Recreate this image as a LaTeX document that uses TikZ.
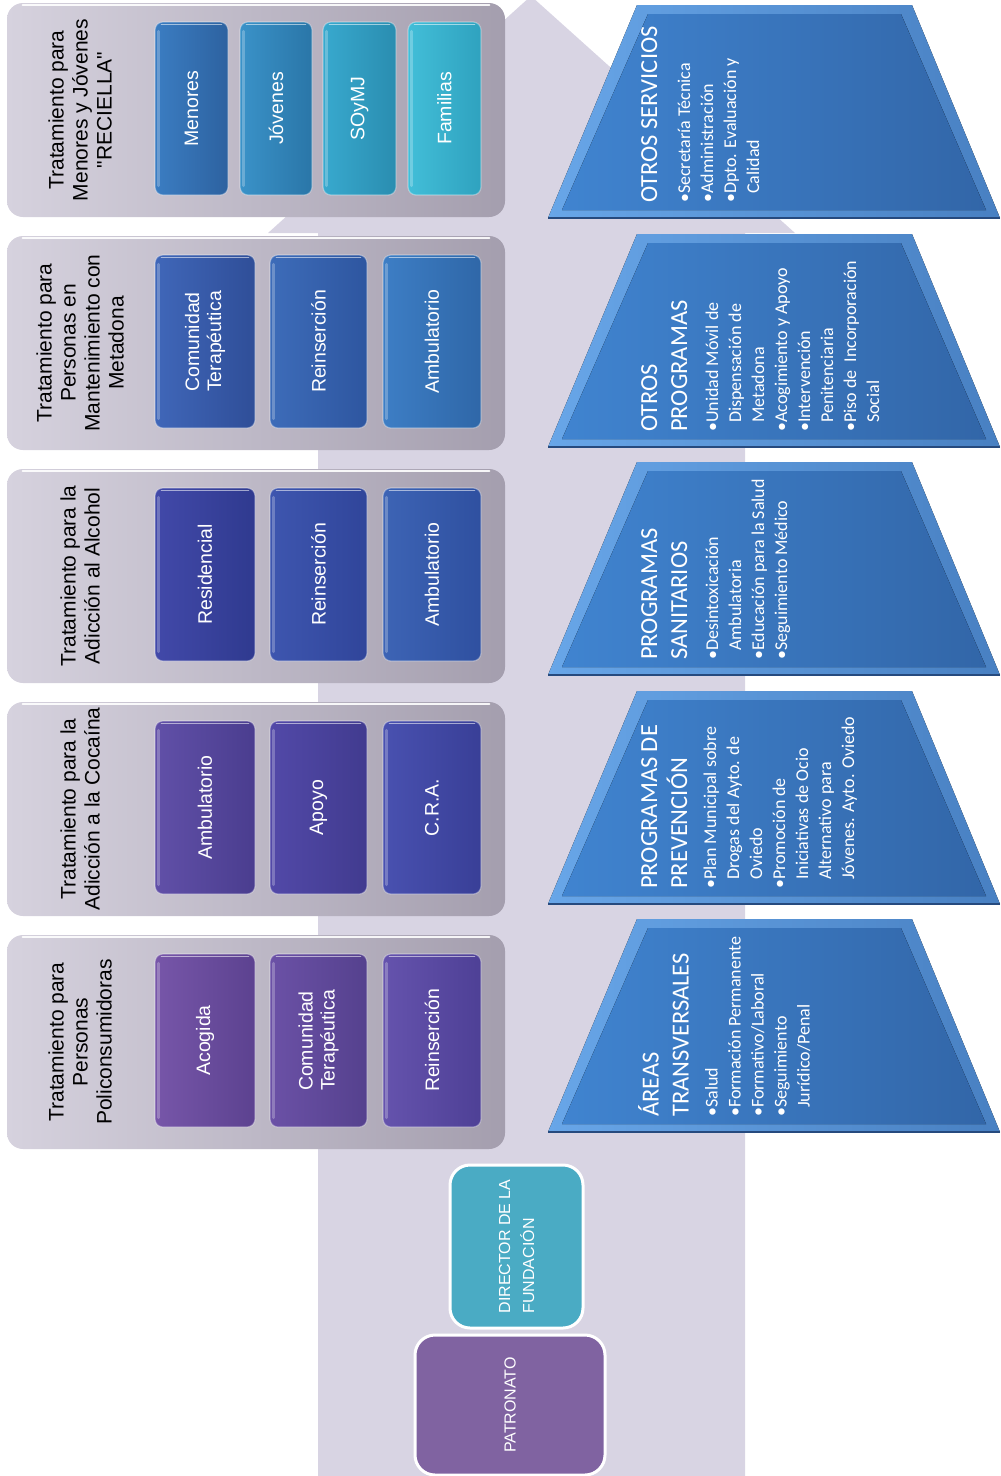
\documentclass[tikz,border=0pt]{standalone}
\usepackage{fontspec}
\setmainfont{Liberation Sans}[Ligatures=TeXOff]
\newfontfamily\calibri{Carlito}
\usetikzlibrary{calc}

\definecolor{fondo}{RGB}{216,212,227}
\definecolor{grisA}{RGB}{214,210,222}
\definecolor{grisB}{RGB}{164,158,174}
\definecolor{azulA}{RGB}{64,132,208}
\definecolor{azulB}{RGB}{50,102,168}
\definecolor{biselA}{RGB}{104,166,232}
\definecolor{biselB}{RGB}{72,128,194}
\definecolor{azulD}{RGB}{38,74,126}
\definecolor{director}{RGB}{74,171,196}
\definecolor{patronato}{RGB}{128,99,161}

\begin{document}
\begin{tikzpicture}[x=1pt, y=-1pt,
	grupo/.style={rounded corners=16pt, left color=grisA, right color=grisB, minimum width=498pt, minimum height=214pt, inner sep=0pt},
	titgrupo/.style={rotate=90, align=center, inner sep=0pt, text=black, font=\fontsize{21}{24}\selectfont},
	caja/.style={rounded corners=8pt, minimum height=173pt, inner sep=0pt, draw=white, draw opacity=0.35, line width=1.2pt},
	txtcaja/.style={rotate=90, align=left, inner sep=0pt, text=white, font=\fontsize{19.5}{22}\selectfont},
	tittrap/.style={rotate=90, anchor=north west, inner sep=0pt, align=left, text=white, font=\calibri\fontsize{24.5}{30}\selectfont},
	listrap/.style={rotate=90, anchor=north west, inner sep=0pt, align=left, text=white, font=\calibri\fontsize{18}{23}\selectfont},
	cargo/.style={rounded corners=20pt, draw=white, line width=3pt, inner sep=0pt},
	txtcargo/.style={rotate=90, align=left, inner sep=0pt, text=white, font=\fontsize{16}{24}\selectfont}]
	\useasboundingbox (0,0) rectangle (1001,1476);

	% flecha de fondo
	\fill[fondo] (318,1476) -- (318,233) -- (268,233) -- (531,-4) -- (795,233) -- (745,233) -- (745,1476) -- cycle;

	% tratamientos
	\foreach \n/\cy/\txt in {1/110/{Tratamiento para\\Menores y Jóvenes\\"RECIELLA"},
			2/343/{Tratamiento para\\Personas en\\Mantenimiento con\\Metadona},
			3/576/{Tratamiento para la\\Adicción al Alcohol},
			4/809/{Tratamiento para la\\Adicción a la Cocaína},
			5/1042/{Tratamiento para\\Personas\\Policonsumidoras}}
	{
		\node[grupo] (g\n) at (256,\cy) {};
		\draw[white, line width=2.5pt, line cap=round, opacity=0.9] ($(g\n.north west)+(16,2)$) -- ($(g\n.north east)+(-16,2)$);
		\node[titgrupo] (tg\n) at (80,\cy) {\txt};
	}

	\foreach \nm/\cx/\cy/\w/\txt/\ca/\cb in {
			men/191.5/108.5/73/Menores/3B7DC2/2D62A0,
			jov/276/108.5/72/Jóvenes/3A92C8/2A76A8,
			soy/359.5/108.5/73/SOyMJ/38A9CE/2A8DB0,
			fam/444.5/108.5/73/Familias/42BED8/2FA2BF,
			ctm/205/341.5/100/{Comunidad\\Terapéutica}/4067B9/2F4E98,
			rem/318.5/341.5/97/Reinserción/3D6CB9/2E56A0,
			amm/432/341.5/98/Ambulatorio/3D7EC5/2F67A8,
			res/205/574.5/100/Residencial/4249A9/2F3A8F,
			rea/318.5/574.5/97/Reinserción/3E56AF/30459A,
			ama/432/574.5/98/Ambulatorio/3D64B5/2F50A0,
			amc/205/807.5/100/Ambulatorio/6150A8/4A3D8F,
			apo/318.5/807.5/97/Apoyo/5249A8/413B8F,
			cra/432/807.5/98/C.R.A./4951B0/393F97,
			aco/205/1040.5/100/Acogida/7756A9/5C4290,
			ctp/318.5/1040.5/97/{Comunidad\\Terapéutica}/6B51A6/55418E,
			rep/432/1040.5/98/Reinserción/6553AD/4E4096}
	{
		\definecolor{izq}{HTML}{\ca}
		\definecolor{der}{HTML}{\cb}
		\node[caja, minimum width=\w pt, left color=izq, right color=der] (\nm) at (\cx,\cy) {};
		\draw[white, opacity=0.55, line width=1.5pt, line cap=round] ($(\nm.north west)+(7,3)$) -- ($(\nm.north east)+(-7,3)$);
		\draw[white, opacity=0.25, line width=3pt, line cap=round] ($(\nm.north west)+(4,10)$) -- ($(\nm.south west)+(4,-10)$);
		\node[txtcaja] (\nm t) at (\nm.center) {\txt};
	}

	% areas (trapecios)
	\foreach \t in {5,234,462,691,919}
	{
		\fill[left color=biselA, right color=biselB] (548,\t+213) -- (637,\t) -- (912,\t) -- (1000,\t+213) -- cycle;
		\fill[left color=azulA, right color=azulB] (562,\t+205) -- (648,\t+9) -- (901,\t+9) -- (986,\t+205) -- cycle;
		\draw[azulD, line width=1.5pt] (548,\t+213) -- (1000,\t+213);
	}

	\node[tittrap] (s1) at (641,203) {OTROS SERVICIOS};
	\node[listrap] (l1) at ($(s1.south west)+(20,0)$) {•Secretaría Técnica\\•Administración\\•Dpto. Evaluación y\\\phantom{•}Calidad};

	\node[tittrap] (s2) at (641,432) {OTROS\\PROGRAMAS};
	\node[listrap] (l2) at ($(s2.south west)+(18,0)$) {•Unidad Móvil de\\\phantom{•}Dispensación de\\\phantom{•}Metadona\\•Acogimiento y Apoyo\\•Intervención\\\phantom{•}Penitenciaria\\•Piso de \ Incorporación\\\phantom{•}Social};

	\node[tittrap] (s3) at (641,660) {PROGRAMAS\\SANITARIOS};
	\node[listrap] (l3) at ($(s3.south west)+(18,0)$) {•Desintoxicación\\\phantom{•}Ambulatoria\\•Educación para la Salud\\•Seguimiento Médico};

	\node[tittrap] (s4) at (641,889) {PROGRAMAS DE\\PREVENCIÓN};
	\node[listrap] (l4) at ($(s4.south west)+(16,0)$) {•Plan Municipal sobre\\\phantom{•}Drogas del Ayto. de\\\phantom{•}Oviedo\\•Promoción de\\\phantom{•}Iniciativas de Ocio\\\phantom{•}Alternativo para\\\phantom{•}Jóvenes. Ayto. Oviedo};

	\node[tittrap] (s5) at (638,1117) {ÁREAS\\TRANSVERSALES};
	\node[listrap] (l5) at ($(s5.south west)+(16,0)$) {•Salud\\•Formación Permanente\\•Formativo/Laboral\\•Seguimiento\\\phantom{•}Jurídico/Penal};

	% direccion
	\node[cargo, fill=director, minimum width=133pt, minimum height=163pt] (dir) at (516.5,1246.5) {};
	\node[txtcargo] (dirt) at (dir.center) {DIRECTOR DE LA\\FUNDACIÓN};
	\node[cargo, fill=patronato, minimum width=190pt, minimum height=140pt] (pat) at (510,1405) {};
	\node[txtcargo] (patt) at (pat.center) {PATRONATO};
\end{tikzpicture}
\end{document}
